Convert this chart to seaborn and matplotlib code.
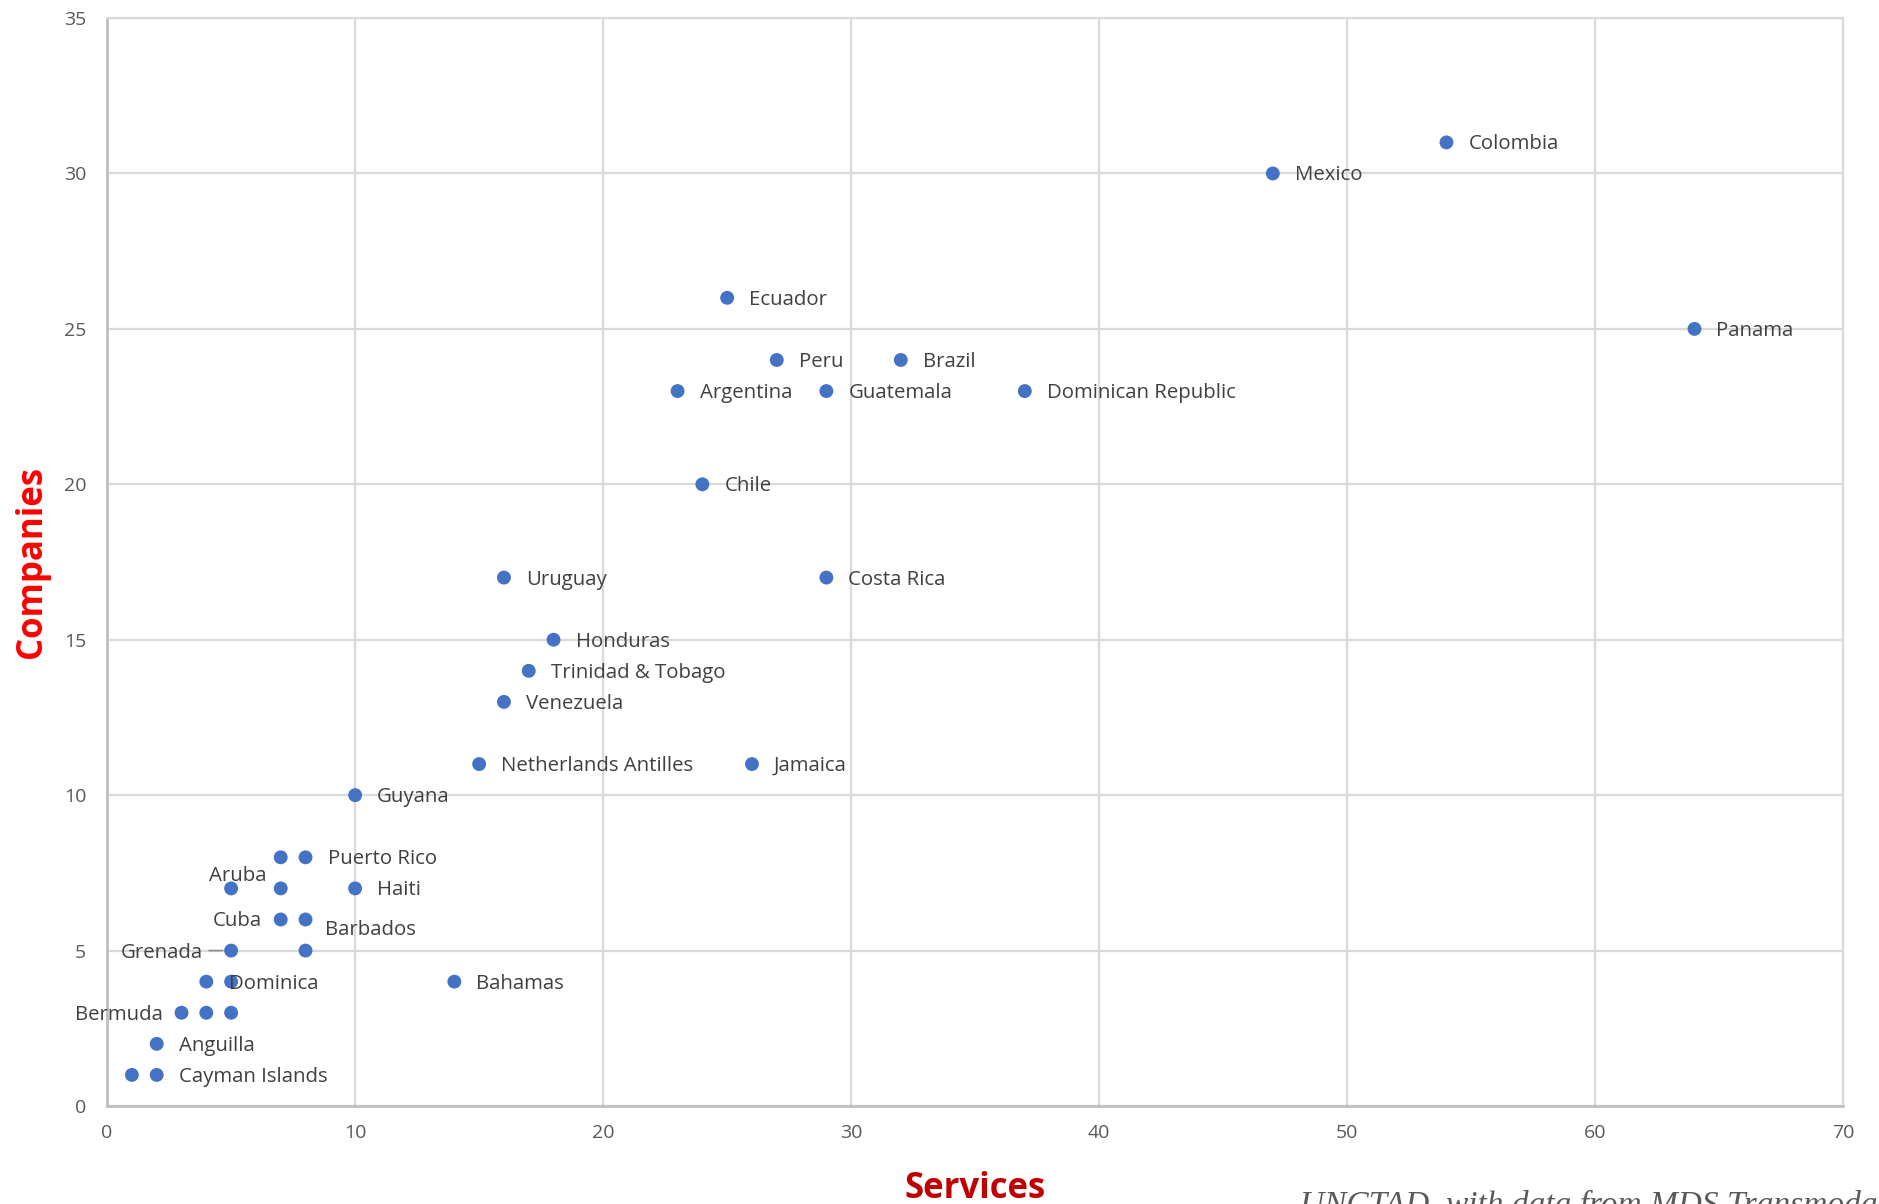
import matplotlib
matplotlib.use("Agg")
import matplotlib.pyplot as plt
import seaborn as sns
import pandas as pd

# Number of services vs. number of companies per economy
countries = [
    "Colombia", "Mexico", "Ecuador", "Panama", "Peru", "Brazil",
    "Argentina", "Guatemala", "Dominican Republic", "Chile", "Uruguay",
    "Costa Rica", "Honduras", "Trinidad & Tobago", "Venezuela",
    "Netherlands Antilles", "Jamaica", "Guyana",
    "", "Puerto Rico", "Aruba", "", "Haiti", "Cuba", "Barbados",
    "Grenada", "", "", "Dominica", "Bahamas",
    "Bermuda", "", "", "Anguilla", "", "Cayman Islands",
]
services = [
    54, 47, 25, 64, 27, 32,
    23, 29, 37, 24, 16,
    29, 18, 17, 16,
    15, 26, 10,
    7, 8, 5, 7, 10, 7, 8,
    5, 8, 4, 5, 14,
    3, 4, 5, 2, 1, 2,
]
companies = [
    31, 30, 26, 25, 24, 24,
    23, 23, 23, 20, 17,
    17, 15, 14, 13,
    11, 11, 10,
    8, 8, 7, 7, 7, 6, 6,
    5, 5, 4, 4, 4,
    3, 3, 3, 2, 1, 1,
]
x_ticks = [0, 10, 20, 30, 40, 50, 60, 70]
y_ticks = [0, 5, 10, 15, 20, 25, 30, 35]

df = pd.DataFrame({"Country": countries, "Services": services, "Companies": companies})

sns.set_theme(style="white")
plt.rcParams["font.family"] = ["Open Sans", "DejaVu Sans"]

fig = plt.figure(figsize=(18.79, 12.04), dpi=100)
ax = fig.add_axes([0.057, 0.0814, 0.924, 0.9036])

sns.scatterplot(data=df, x="Services", y="Companies", ax=ax,
                color="#4472C4", s=100, edgecolor="none", zorder=3)

ax.set_xlim(0, 70)
ax.set_ylim(0, 35)
ax.set_xticks(x_ticks)
ax.set_yticks(y_ticks)
ax.grid(True, color="#D9D9D9", linewidth=1.6, zorder=0)
ax.set_axisbelow(True)
for side in ("top", "right"):
    ax.spines[side].set_color("#D9D9D9")
    ax.spines[side].set_linewidth(1.6)
for side in ("left", "bottom"):
    ax.spines[side].set_color("#BFBFBF")
    ax.spines[side].set_linewidth(2.0)

ax.tick_params(axis="both", length=0, labelsize=14, labelcolor="#595959")
ax.tick_params(axis="y", pad=15)
ax.tick_params(axis="x", pad=13)

ax.set_xlabel("Services", fontsize=25, fontweight="bold", color="#C00000", labelpad=21)
ax.set_ylabel("Companies", fontsize=25, fontweight="bold", color="#FF0000", labelpad=10)

# Data labels: default to the right of each point; a few are nudged to avoid overlap
label_style = {
    "Aruba": dict(offset=(7, 12), ha="center"),
    "Cuba": dict(offset=(-19, -2), ha="right"),
    "Barbados": dict(offset=(19, -11), ha="left"),
    "Grenada": dict(offset=(-28, -2), ha="right"),
    "Dominica": dict(offset=(-2, -2), ha="left"),
    "Bermuda": dict(offset=(-19, -2), ha="right"),
}
for name, sx, cy in zip(countries, services, companies):
    if not name:
        continue
    st = label_style.get(name, dict(offset=(22, -2), ha="left"))
    ax.annotate(name, (sx, cy), xytext=st["offset"], textcoords="offset pixels",
                ha=st["ha"], va="center", fontsize=14.7, color="#404040", zorder=4)

# leader line for Grenada
gx, gy = services[countries.index("Grenada")], companies[countries.index("Grenada")]
ax.annotate("", (gx, gy), xytext=(-22, 0), textcoords="offset pixels",
            arrowprops=dict(arrowstyle="-", color="#8C8C8C", lw=1.2,
                            shrinkA=0, shrinkB=6))

fig.text(1300 / 1879, 1 - 1190 / 1204, "UNCTAD, with data from MDS Transmodal",
         fontsize=24, fontstyle="italic", family=["Liberation Serif", "DejaVu Serif"],
         color="#595959", ha="left", va="top")

fig.savefig("out.png", dpi=100)
